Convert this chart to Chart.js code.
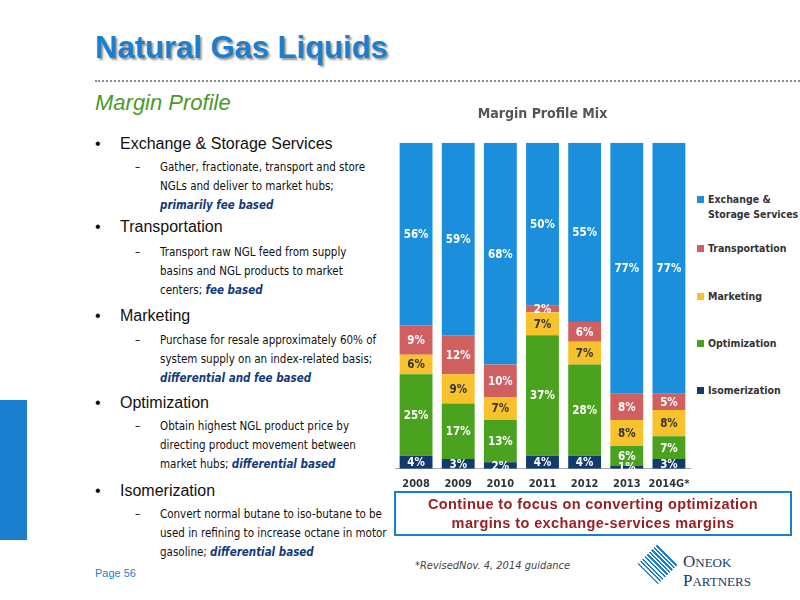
<!DOCTYPE html>
<html lang="en">
<head>
<meta charset="UTF-8">
<title>Natural Gas Liquids</title>
<script src="https://cdn.jsdelivr.net/npm/chart.js"></script>
<style>
  body { margin:0; width:800px; height:600px; position:relative; background:#fff; font-family:"Liberation Sans", Arial, sans-serif; overflow:hidden; }
  .abs { position:absolute; }
  h1 { position:absolute; left:95px; top:30px; margin:0; font-size:31px; color:#1b7fd0; font-weight:bold; text-shadow:2px 2px 2px #999; }
  .dots { left:95px; top:80px; width:705px; border-top:2px dotted #8a8a8a; }
  .sub { left:95px; top:90px; font-size:22px; color:#4a9a28; font-style:italic; }
  .b { left:95px; font-size:16px; color:#111; }
  .b span { position:absolute; left:25px; white-space:nowrap; }
  .d { left:135px; font-family:"DejaVu Sans Condensed", "Liberation Sans", sans-serif; font-size:11.5px; line-height:19px; color:#111; }
  .d .t { position:absolute; left:25px; width:222px; }
  .d i { color:#123a7a; font-weight:bold; }
  .leg { left:697px; font-family:"DejaVu Sans Condensed", Arial, sans-serif; font-size:10.5px; font-weight:bold; color:#333; white-space:nowrap; line-height:15px; }
  .leg b { display:inline-block; width:7px; height:7px; margin-right:4px; }
</style>
</head>
<body>
<div class="abs" style="left:0;top:400px;width:27px;height:140px;background:#1b7fd0"></div>
<h1>Natural Gas Liquids</h1>
<div class="abs dots"></div>
<div class="abs sub">Margin Profile</div>

<div class="abs b" style="top:135px">•<span>Exchange &amp; Storage Services</span></div>
<div class="abs d" style="top:158px">–<div class="t" style="top:0">Gather, fractionate, transport and store NGLs and deliver to market hubs; <i>primarily fee based</i></div></div>
<div class="abs b" style="top:218px">•<span>Transportation</span></div>
<div class="abs d" style="top:243px">–<div class="t" style="top:0">Transport raw NGL feed from supply basins and NGL products to market centers; <i>fee based</i></div></div>
<div class="abs b" style="top:307px">•<span>Marketing</span></div>
<div class="abs d" style="top:331px">–<div class="t" style="top:0">Purchase for resale approximately 60% of system supply on an index-related basis; <i>differential and fee based</i></div></div>
<div class="abs b" style="top:394px">•<span>Optimization</span></div>
<div class="abs d" style="top:417px">–<div class="t" style="top:0">Obtain highest NGL product price by directing product movement between market hubs; <i>differential based</i></div></div>
<div class="abs b" style="top:482px">•<span>Isomerization</span></div>
<div class="abs d" style="top:505px">–<div class="t" style="top:0;width:232px">Convert normal butane to iso-butane to be used in refining to increase octane in motor gasoline; <i>differential based</i></div></div>
<div class="abs" style="left:95px;top:567px;font-size:11px;color:#1b7fd0">Page 56</div>

<div class="abs" style="left:395px;top:100px;width:300px;height:394px"><canvas id="myChart"></canvas></div>

<div class="abs leg" style="top:192px"><b style="background:#1b8fdc"></b>Exchange &amp;<br><span style="margin-left:11px">Storage Services</span></div>
<div class="abs leg" style="top:241px"><b style="background:#d06060"></b>Transportation</div>
<div class="abs leg" style="top:289px"><b style="background:#f8c22c"></b>Marketing</div>
<div class="abs leg" style="top:336px"><b style="background:#4aa21e"></b>Optimization</div>
<div class="abs leg" style="top:383px"><b style="background:#123a6e"></b>Isomerization</div>

<div class="abs" style="left:394px;top:491px;width:398px;height:45px;border:2px solid #1b7fd0;box-sizing:border-box;text-align:center;color:#9a2020;font-family:'Liberation Sans',sans-serif;font-weight:bold;font-size:14.5px;line-height:19px;padding-top:2px;letter-spacing:0.4px;white-space:nowrap">Continue to focus on converting optimization<br>margins to exchange-services margins</div>
<div class="abs" style="left:415px;top:559px;font-size:11px;font-style:italic;color:#444;font-family:'DejaVu Sans Condensed',sans-serif">*RevisedNov. 4, 2014 guidance</div>
<div class="abs" style="left:640px;top:546px;width:36px;height:36px;background:repeating-linear-gradient(0deg,#1b7fd0 0 2px,#fff 2px 4px);transform:rotate(45deg) scale(0.8)"></div>
<div class="abs" style="left:683px;top:553px;font-family:'Liberation Serif',serif;font-size:17px;line-height:18px;color:#1a3a6a">O<span style="font-size:13px">NEOK</span><br>P<span style="font-size:13px">ARTNERS</span></div>

<script>
const years = ['2008','2009','2010','2011','2012','2013','2014G*'];
const isomerization = [4, 3, 2, 4, 4, 1, 3];
const optimization  = [25, 17, 13, 37, 28, 6, 7];
const marketing     = [6, 9, 7, 7, 7, 8, 8];
const transportation= [9, 12, 10, 2, 6, 8, 5];
const exchange      = [56, 59, 68, 50, 55, 77, 77];

const labelPlugin = {
  id:'barLabels',
  afterDatasetsDraw(chart){
    const ctx = chart.ctx;
    ctx.save();
    ctx.font = 'bold 11.5px "DejaVu Sans Condensed", Arial';
    ctx.textAlign = 'center';
    ctx.textBaseline = 'middle';
    chart.data.datasets.forEach((ds, i) => {
      chart.getDatasetMeta(i).data.forEach((bar, j) => {
        ctx.fillStyle = ds.labelColor;
        ctx.fillText(ds.data[j] + '%', bar.x, (bar.y + bar.base) / 2 + 1);
      });
    });
    ctx.restore();
  }
};

new Chart(document.getElementById('myChart'), {
  type:'bar',
  data:{
    labels: years,
    datasets:[
      {label:'Isomerization', data:isomerization, backgroundColor:'#123a6e', labelColor:'#fff'},
      {label:'Optimization', data:optimization, backgroundColor:'#4aa21e', labelColor:'#fff'},
      {label:'Marketing', data:marketing, backgroundColor:'#f8c22c', labelColor:'#333'},
      {label:'Transportation', data:transportation, backgroundColor:'#d06060', labelColor:'#fff'},
      {label:'Exchange & Storage Services', data:exchange, backgroundColor:'#1b8fdc', labelColor:'#fff'}
    ]
  },
  options:{
    responsive:true, maintainAspectRatio:false, animation:false,
    layout:{padding:{left:0,right:5}},
    datasets:{bar:{barPercentage:0.78, categoryPercentage:1}},
    plugins:{
      legend:{display:false}, tooltip:{enabled:false},
      title:{display:true, text:'Margin Profile Mix', color:'#555', font:{size:14, weight:'bold', family:'"DejaVu Sans Condensed", Arial'}, padding:{top:6,bottom:20}}
    },
    scales:{
      x:{stacked:true, grid:{display:false, drawTicks:true, tickLength:6, color:'#aaa'}, border:{color:'#aaa'},
         ticks:{color:'#333', maxRotation:0, minRotation:0, autoSkip:false, font:{size:11, weight:'bold', family:'"DejaVu Sans Condensed", Arial'}}},
      y:{stacked:true, display:false, min:0, max:100}
    }
  },
  plugins:[labelPlugin]
});
</script>
</body>
</html>
